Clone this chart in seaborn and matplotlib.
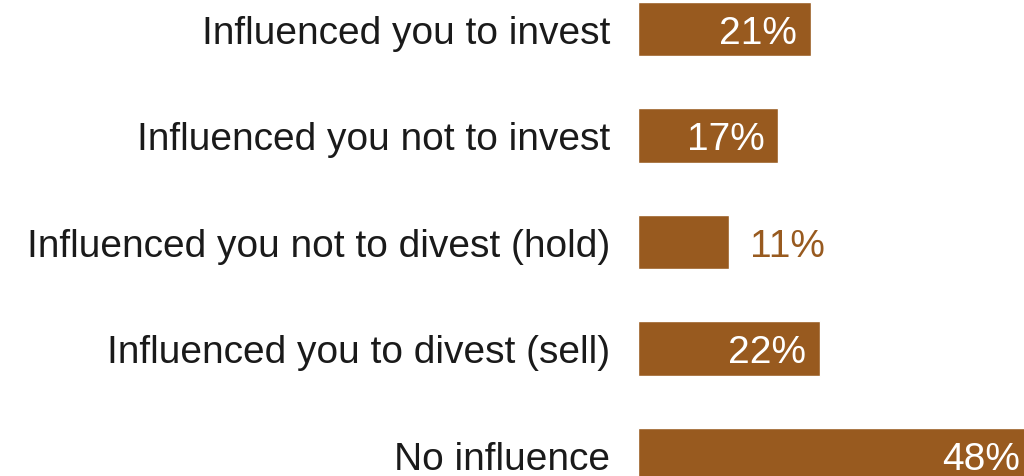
import pandas as pd
import seaborn as sns
import matplotlib.pyplot as plt

# values
answers = ["Influenced you to invest",
           "Influenced you not to invest",
           "Influenced you not to divest (hold)",
           "Influenced you to divest (sell)",
           "No influence"]
shares = [21, 17, 11, 22, 48]
bar_colour = "#985A1F"

data = pd.DataFrame({"Answer": answers, "Share": shares})

sns.set_style("white")
plt.rcParams["font.family"] = ["Liberation Sans", "DejaVu Sans"]

fig = plt.figure(figsize=(10.24, 4.77), dpi=100)
# axes placed so 1% = ~8.25 px and the first bar starts at x=638
ax = fig.add_axes([638 / 1024, 0, 50 * 8.25 / 1024, 1])

sns.barplot(data=data, x="Share", y="Answer", orient="h", color=bar_colour,
            saturation=1, width=0.51, ax=ax)

step = 106.5  # px between bar centres, first centre at y=30
ax.set_xlim(0, 50)
ax.set_ylim((477 - 30) / step, -30 / step)
ax.set_xlabel("")
ax.set_ylabel("")
ax.set_xticks([])
ax.tick_params(axis="y", length=0, pad=20, labelsize=28, labelcolor="#1a1a1a")
sns.despine(ax=ax, left=True, bottom=True, top=True, right=True)

# value labels: inside in white, outside in brown for the short bar
for i, v in enumerate(shares):
    if v < 14:
        ax.annotate(f"{v}%", (v, i), xytext=(15, 0), textcoords="offset points",
                    ha="left", va="center_baseline", fontsize=28, color=bar_colour)
    else:
        ax.annotate(f"{v}%", (v, i), xytext=(-10, 0), textcoords="offset points",
                    ha="right", va="center_baseline", fontsize=28, color="white")

fig.savefig("out.png", dpi=100)
